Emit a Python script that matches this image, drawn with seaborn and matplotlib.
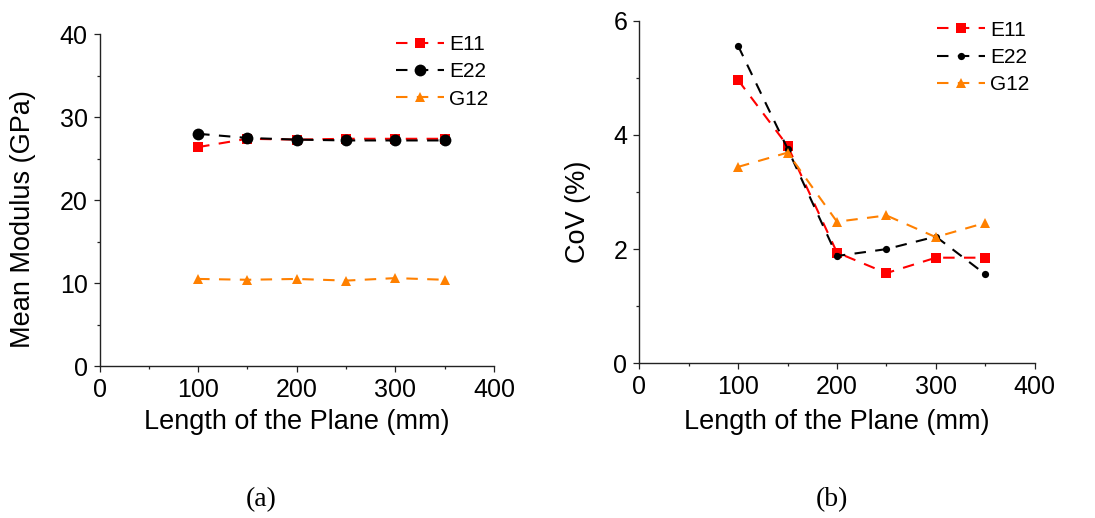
import matplotlib
matplotlib.use("Agg")
import matplotlib.pyplot as plt
from matplotlib.ticker import MultipleLocator
import seaborn as sns

# Plane length (mm)
lengths = [100, 150, 200, 250, 300, 350]

# Mean modulus (GPa)
mean_e11 = [26.4, 27.4, 27.3, 27.4, 27.4, 27.4]
mean_e22 = [28.0, 27.5, 27.3, 27.2, 27.2, 27.2]
mean_g12 = [10.5, 10.4, 10.5, 10.3, 10.6, 10.4]

# Coefficient of variation (%)
cov_e11 = [4.96, 3.81, 1.94, 1.58, 1.85, 1.85]
cov_e22 = [5.56, 3.76, 1.88, 2.00, 2.22, 1.56]
cov_g12 = [3.44, 3.69, 2.48, 2.59, 2.21, 2.46]

series_names = ["E11", "E22", "G12"]
xlabel = "Length of the Plane (mm)"

sns.set_theme(style="ticks")
plt.rcParams["font.family"] = ["Liberation Sans", "DejaVu Sans"]
for key in ["text.color", "axes.labelcolor", "xtick.color", "ytick.color"]:
    plt.rcParams[key] = "black"

colors = {"E11": "#ff0000", "E22": "#000000", "G12": "#ff8000"}
markers = {"E11": "s", "E22": "o", "G12": "^"}

fig = plt.figure(figsize=(10.95, 5.18), dpi=100)
ax_a = fig.add_axes([0.0909, 0.2934, 0.3602, 0.6404])
ax_b = fig.add_axes([0.5838, 0.2986, 0.3611, 0.6614])


def draw(ax, data, msizes):
    for name, vals in zip(series_names, data):
        sns.lineplot(x=lengths, y=vals, ax=ax, color=colors[name],
                     marker=markers[name], markersize=msizes[name],
                     markeredgewidth=0, linewidth=1.5,
                     linestyle=(0, (5.5, 4.5)), label=name)


draw(ax_a, [mean_e11, mean_e22, mean_g12], {"E11": 7, "E22": 8.5, "G12": 7.5})
draw(ax_b, [cov_e11, cov_e22, cov_g12], {"E11": 7, "E22": 5.2, "G12": 7.5})

panels = [
    # axis, y-limits, major/minor y step, y label, y-label coords, legend anchor
    (ax_a, (0, 40), 10, 5, "Mean Modulus (GPa)", (-0.194, 0.444), (0.752, 0.998)),
    (ax_b, (0, 6), 2, 1, "CoV (%)", (-0.155, 0.442), (0.753, 1.0)),
]

for ax, ylim, ymaj, ymin, ylabel, ycoords, leg_anchor in panels:
    ax.set_xlim(0, 400)
    ax.set_ylim(*ylim)
    ax.xaxis.set_major_locator(MultipleLocator(100))
    ax.xaxis.set_minor_locator(MultipleLocator(50))
    ax.yaxis.set_major_locator(MultipleLocator(ymaj))
    ax.yaxis.set_minor_locator(MultipleLocator(ymin))
    ax.tick_params(which="major", direction="out", length=4.5, width=0.9,
                   labelsize=18, color="#222222")
    ax.tick_params(axis="x", which="major", pad=4)
    ax.tick_params(axis="y", which="major", pad=4)
    ax.tick_params(which="minor", direction="out", length=2.5, width=0.9,
                   color="#222222")
    for side in ["top", "right"]:
        ax.spines[side].set_visible(False)
    for side in ["left", "bottom"]:
        ax.spines[side].set_linewidth(1.0)
        ax.spines[side].set_color("#222222")
    ax.set_xlabel(xlabel, fontsize=19.5, va="center")
    ax.xaxis.set_label_coords(0.5, -0.17)
    ax.set_ylabel(ylabel, fontsize=19.5, va="center")
    ax.yaxis.set_label_coords(*ycoords)
    ax.legend(loc="upper left", bbox_to_anchor=leg_anchor, frameon=False,
              fontsize=15, handlelength=2.3, handletextpad=0.25,
              labelspacing=0.4, borderpad=0, borderaxespad=0)

fig.text(261 / 1095, 1 - 500 / 518, "(a)", ha="center", va="center",
         fontsize=20, family=["Liberation Serif", "DejaVu Serif"])
fig.text(832 / 1095, 1 - 500 / 518, "(b)", ha="center", va="center",
         fontsize=20, family=["Liberation Serif", "DejaVu Serif"])

fig.savefig("out.png", dpi=100, facecolor="white")
